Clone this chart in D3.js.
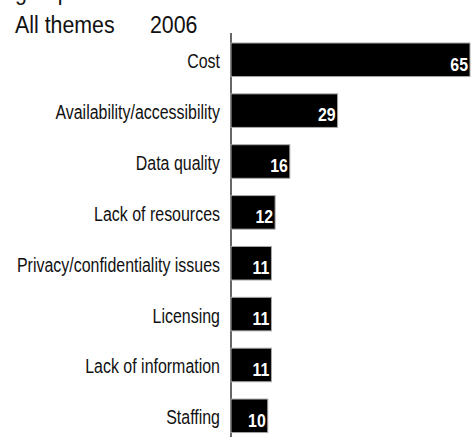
<!DOCTYPE html>
<html>
<head>
<meta charset="utf-8">
<script src="https://cdn.jsdelivr.net/npm/d3@7"></script>
<style>
  html, body { margin: 0; padding: 0; background: #fff; }
  svg { display: block; }
  text { font-family: "Liberation Sans", Arial, sans-serif; }
</style>
</head>
<body>
<svg id="chart" width="472" height="437"></svg>
<script>
// Reported barriers, all themes, 2006
const categories = [
  "Cost",
  "Availability/accessibility",
  "Data quality",
  "Lack of resources",
  "Privacy/confidentiality issues",
  "Licensing",
  "Lack of information",
  "Staffing"
];
const values = [65, 29, 16, 12, 11, 11, 11, 10];
const titleText = "All themes";
const yearText = "2006";
const headingText = "groups";

const svg = d3.select("#chart");

const x = d3.scaleLinear().domain([0, 65]).range([231, 470]);
const y = d3.scaleBand()
  .domain(categories)
  .range([25.7, 449.9])
  .paddingInner(0.34)
  .paddingOuter(0.34);

// condensed lettering: squeeze each text horizontally around its anchor
function narrow(sel, sx) {
  return sel.attr("transform", function () {
    const t = d3.select(this);
    const px = +t.attr("data-x"), py = +t.attr("data-y");
    return `translate(${px},${py}) scale(${sx},1)`;
  });
}

function label(parent, px, py, str, size, sx) {
  const t = parent.append("text")
    .attr("data-x", px).attr("data-y", py)
    .attr("font-size", size).attr("fill", "#111")
    .text(str);
  narrow(t, sx);
  return t;
}

// heading line running off the top edge
label(svg, 15, -0.5, headingText, 24, 0.89);
label(svg, 15, 33, titleText, 24, 0.89);
label(svg, 150, 33, yearText, 24, 0.89);

// vertical baseline axis
svg.append("line")
  .attr("x1", x(0)).attr("x2", x(0))
  .attr("y1", 33).attr("y2", 437)
  .attr("stroke", "#000").attr("stroke-width", 1.2);

const rows = svg.selectAll("g.row")
  .data(categories.map((c, i) => ({ c, v: values[i] })))
  .join("g").attr("class", "row");

rows.append("rect")
  .attr("x", x(0))
  .attr("y", d => y(d.c))
  .attr("width", d => x(d.v) - x(0))
  .attr("height", y.bandwidth())
  .attr("fill", "#000")
  .attr("stroke", "#aaa")
  .attr("stroke-width", 1);

rows.append("text")
  .attr("data-x", 220)
  .attr("data-y", d => y(d.c) + y.bandwidth() / 2 + 8.5)
  .attr("text-anchor", "end")
  .attr("font-size", 21)
  .attr("fill", "#111")
  .text(d => d.c)
  .call(narrow, 0.76);

rows.append("text")
  .attr("data-x", d => x(d.v) - 2)
  .attr("data-y", d => y(d.c) + y.bandwidth() - 6)
  .attr("text-anchor", "end")
  .attr("font-size", 18.5)
  .attr("font-weight", "bold")
  .attr("fill", "#fff")
  .text(d => d.v)
  .call(narrow, 0.86);
</script>
</body>
</html>
